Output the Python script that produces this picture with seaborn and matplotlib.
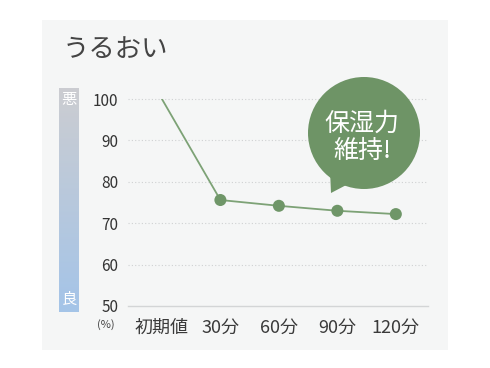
import numpy as np
import pandas as pd
import matplotlib
matplotlib.use("Agg")
import matplotlib.pyplot as plt
from matplotlib.patches import Rectangle, Circle, Polygon
import seaborn as sns

categories = ["初期値", "30分", "60分", "90分", "120分"]
values = [100, 75.6, 74.2, 73.0, 72.2]
yticks = [50, 60, 70, 80, 90, 100]

sns.set_style("white")
plt.rcParams["font.family"] = ["Noto Sans CJK JP", "DejaVu Sans"]

W, H = 490, 368
fig = plt.figure(figsize=(W / 100, H / 100), dpi=100)
fig.patch.set_facecolor("white")
# light panel
fig.patches.append(Rectangle((42 / W, 1 - 350 / H), (448 - 42) / W, (350 - 20) / H,
                             transform=fig.transFigure, facecolor="#f5f6f6",
                             edgecolor="none", zorder=-10))

ax = fig.add_axes([128 / W, 62 / H, 300 / W, (306 - 99) / H])
ax.set_facecolor("none")

df = pd.DataFrame({"x": np.arange(len(categories)), "y": values})
green_line = "#7da276"
green_dot = "#6f9668"
sns.lineplot(data=df, x="x", y="y", ax=ax, color=green_line, linewidth=1.3, zorder=3)
sns.scatterplot(data=df.iloc[1:], x="x", y="y", ax=ax, color=green_dot, s=75,
                edgecolor="none", zorder=4)

ax.set_xlim(-0.58, 4.55)
ax.set_ylim(50, 100)
ax.set_yticks(yticks)
ax.set_yticklabels([str(v) for v in yticks], fontsize=11, color="#333333")
ax.set_xticks(df["x"])
ax.set_xticklabels(categories, fontsize=13, color="#3a3a3a")
ax.set_xlabel("")
ax.set_ylabel("")
for v in yticks[1:]:
    ax.axhline(v, color="#cfd1d2", linestyle=(0, (1, 2)), linewidth=0.8, zorder=1,
               clip_on=False)
for s in ["top", "right", "left"]:
    ax.spines[s].set_visible(False)
ax.spines["bottom"].set_color("#d3d5d6")
ax.spines["bottom"].set_linewidth(1.0)
ax.tick_params(axis="y", length=0, pad=7)
ax.tick_params(axis="x", direction="in", length=3, color="#d3d5d6", pad=9)

fig.text(106 / W, 1 - 325 / H, "(%)", fontsize=8, color="#444444",
         ha="center", va="center")
fig.text(63 / W, 1 - 50 / H, "うるおい", fontsize=19, color="#444444",
         ha="left", va="center")

# gradient bar
cax = fig.add_axes([59 / W, 1 - 312 / H, 20 / W, (312 - 88) / H])
top = np.array([0xcc, 0xcd, 0xd1]) / 255
bot = np.array([0xa4, 0xc4, 0xe8]) / 255
t = np.linspace(0, 1, 256)[:, None]
grad = (top[None, :] * (1 - t) + bot[None, :] * t)[:, None, :]
cax.imshow(grad, aspect="auto", extent=[0, 1, 1, 0])
cax.set_axis_off()
cax.text(0.5, 0.95, "悪", color="white", fontsize=11, ha="center", va="center",
         transform=cax.transAxes)
cax.text(0.5, 0.055, "良", color="white", fontsize=11, ha="center", va="center",
         transform=cax.transAxes)

# speech bubble overlay
oax = fig.add_axes([0, 0, 1, 1], zorder=5)
oax.set_xlim(0, W)
oax.set_ylim(H, 0)
oax.set_axis_off()
oax.patch.set_alpha(0)
bubble = "#6e9466"
oax.add_patch(Circle((364, 133), 56, facecolor=bubble, edgecolor="none"))
oax.add_patch(Polygon([[330, 170], [352, 182], [331, 193]], closed=True,
                      facecolor=bubble, edgecolor="none"))
oax.text(362, 137, "保湿力\n維持!", color="white", fontsize=18, ha="center",
         va="center", linespacing=1.05)

fig.savefig("out.png", dpi=100)
